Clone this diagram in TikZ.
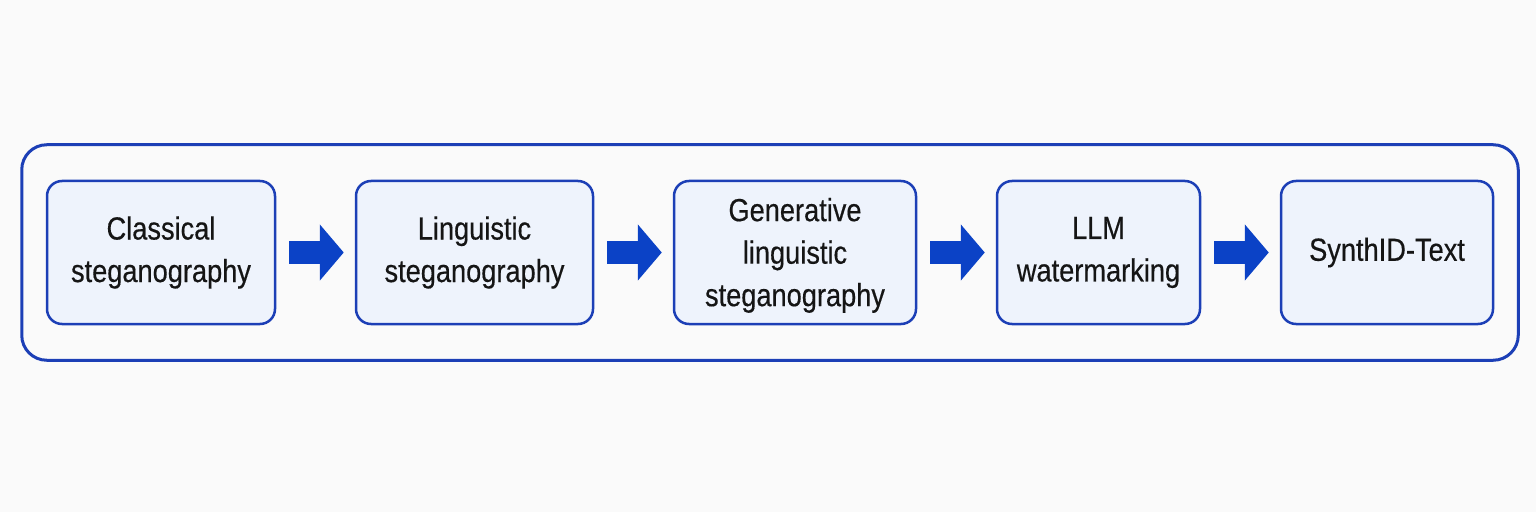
\documentclass[tikz,border=0pt]{standalone}
\usepackage{fontspec}
\setmainfont{Liberation Sans}[FakeStretch=0.85, FakeBold=0.4]
\usepackage{xcolor}
\usepackage{tikz}
\usetikzlibrary{
	arrows.meta,									% 提供各种箭头样式
	fit,											% 创建适配指定节点或坐标的包围框节点
	positioning,									% 节点的高级摆放
}
\definecolor{frameblue}{HTML}{1C3FB6}
\definecolor{arrowblue}{HTML}{0B42C6}
\definecolor{stagefill}{HTML}{EEF3FC}
\definecolor{textblack}{HTML}{151515}

\begin{document}
\begin{tikzpicture}[
		stage/.style={draw=frameblue, line width=2.5pt, fill=stagefill, rounded corners=15pt,
			minimum height=143pt, inner sep=0pt, align=center, text=textblack,
			font=\fontsize{32}{42.5}\selectfont},
		flow/.style={draw=arrowblue, line width=23pt, -{Triangle[length=24pt, width=55pt]},
			shorten <=13pt, shorten >=11pt},
		node distance=78.5pt
	]
		\fill[white!98!black] (0,0) rectangle (1536pt,512pt);
		\useasboundingbox (0,0) rectangle (1536pt,512pt);
		\node[stage, minimum width=228pt] (classic) at (161pt,259.5pt) {Classical\\steganography};
		\node[stage, minimum width=237pt, right=of classic] (ling) {Linguistic\\steganography};
		\node[stage, minimum width=242pt, right=of ling, text height=114pt] (genling) {Generative\\linguistic\\steganography};
		\node[stage, minimum width=203pt, right=of genling] (llmwm) {LLM\\watermarking};
		\node[stage, minimum width=212pt, right=of llmwm] (synthid) {SynthID-Text};
		\node[fit=(classic)(synthid), draw=frameblue, line width=3pt, rounded corners=25pt,
			inner xsep=24pt, inner ysep=35pt] (frame) {};
		\draw[flow] (classic) -- (ling);
		\draw[flow] (ling) -- (genling);
		\draw[flow] (genling) -- (llmwm);
		\draw[flow] (llmwm) -- (synthid);
	\end{tikzpicture}
\end{document}
